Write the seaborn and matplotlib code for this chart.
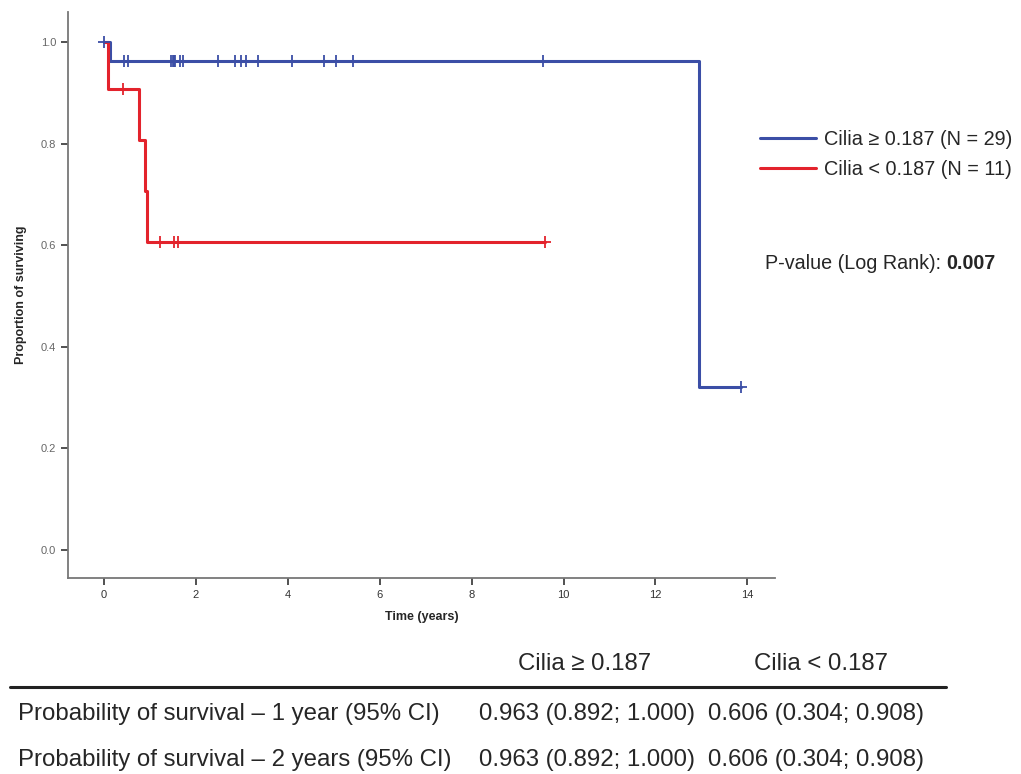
import numpy as np
import pandas as pd
import matplotlib
matplotlib.use("Agg")
import matplotlib.pyplot as plt
from matplotlib.lines import Line2D
import seaborn as sns

# Kaplan-Meier curves
hi_times = [0.0, 0.13, 12.95]
hi_surv = [1.0, 0.963, 0.321]
hi_end = 13.87
hi_cens = [0.0, 0.44, 0.52, 1.47, 1.50, 1.53, 1.55, 1.66, 1.73, 2.48, 2.85,
           2.98, 3.10, 3.35, 4.10, 4.78, 5.04, 5.43, 9.56, 13.87]

lo_times = [0.0, 0.09, 0.76, 0.90, 0.94]
lo_surv = [1.0, 0.909, 0.808, 0.707, 0.606]
lo_end = 9.60
lo_cens = [0.42, 1.23, 1.52, 1.62, 9.60]

labels = ["Cilia \u2265 0.187 (N = 29)", "Cilia < 0.187 (N = 11)"]
colors = ["#3b4ea6", "#e3232c"]

col_heads = ["Cilia \u2265 0.187", "Cilia < 0.187"]
row_names = ["Probability of survival \u2013 1 year (95% CI)",
             "Probability of survival \u2013 2 years (95% CI)"]
hi_probs = ["0.963 (0.892; 1.000)", "0.963 (0.892; 1.000)"]
lo_probs = ["0.606 (0.304; 0.908)", "0.606 (0.304; 0.908)"]
p_value = "0.007"

sns.set_theme(style="white")
plt.rcParams['font.family'] = ['Liberation Sans', 'DejaVu Sans']

fig = plt.figure(figsize=(10.21, 7.74), dpi=100)
ax = fig.add_axes([0.0666, 0.2536, 0.6924, 0.7309])


def step_at(times, surv, t):
    i = np.searchsorted(times, t, side="right") - 1
    return surv[max(i, 0)]


curves = [(hi_times, hi_surv, hi_end, hi_cens), (lo_times, lo_surv, lo_end, lo_cens)]
for (tm, sv, end, cens), lab, c in zip(curves, labels, colors):
    df = pd.DataFrame({"time": tm + [end], "surv": sv + [sv[-1]]})
    sns.lineplot(data=df, x="time", y="surv", ax=ax, color=c, lw=2.2,
                 drawstyle="steps-post", estimator=None, sort=False, label=lab)
    cdf = pd.DataFrame({"time": cens, "surv": [step_at(tm, sv, t) for t in cens]})
    sns.scatterplot(data=cdf, x="time", y="surv", ax=ax, color=c, marker="+",
                    s=70, linewidth=1.3, zorder=3, legend=False)

ax.get_legend().remove()
ax.set_xlim(-0.78, 14.6)
ax.set_ylim(-0.055, 1.06)
ax.set_xticks(range(0, 15, 2))
ax.set_yticks([0.0, 0.2, 0.4, 0.6, 0.8, 1.0])
ax.set_yticklabels(["0.0", "0.2", "0.4", "0.6", "0.8", "1.0"])
ax.tick_params(axis="both", which="both", direction="out", length=5, width=1.2,
               labelsize=8, colors="#333333", bottom=True, left=True)
for lab in ax.get_yticklabels():
    lab.set_color("#666666")
for s in ["top", "right"]:
    ax.spines[s].set_visible(False)
for s in ["left", "bottom"]:
    ax.spines[s].set_color("#777777")
    ax.spines[s].set_linewidth(1.3)
ax.set_xlabel("Time (years)", fontsize=9, fontweight="bold", labelpad=8)
ax.set_ylabel("Proportion of surviving", fontsize=9, fontweight="bold", labelpad=10)

handles = [Line2D([], [], color=c, lw=2.2) for c in colors]
fig.legend(handles, labels, loc="upper left", bbox_to_anchor=(0.744, 0.832),
           frameon=False, fontsize=14.3, handlelength=2.85, handletextpad=0.4,
           labelspacing=0.55, borderpad=0, borderaxespad=0)

t1 = fig.text(0.749, 1 - 264 / 774, "P-value (Log Rank): ", fontsize=14.2, va="center")
ax.annotate(p_value, xy=(1, 0), xycoords=t1, va="bottom", fontsize=14.2,
            fontweight="bold")

# summary table under the plot
tfs = 17.3
fig.text(585 / 1021, 1 - 664 / 774, col_heads[0], ha="center", va="center", fontsize=tfs)
fig.text(821 / 1021, 1 - 664 / 774, col_heads[1], ha="center", va="center", fontsize=tfs)
fig.add_artist(Line2D([10 / 1021, 946 / 1021], [1 - 687 / 774] * 2,
                      color="#222222", lw=2.2, transform=fig.transFigure))
for i, (rn, a, b) in enumerate(zip(row_names, hi_probs, lo_probs)):
    y = 1 - (714 + 46 * i) / 774
    fig.text(18 / 1021, y, rn, ha="left", va="center", fontsize=tfs)
    fig.text(479 / 1021, y, a, ha="left", va="center", fontsize=tfs)
    fig.text(708 / 1021, y, b, ha="left", va="center", fontsize=tfs)

fig.savefig("out.png", dpi=100)
